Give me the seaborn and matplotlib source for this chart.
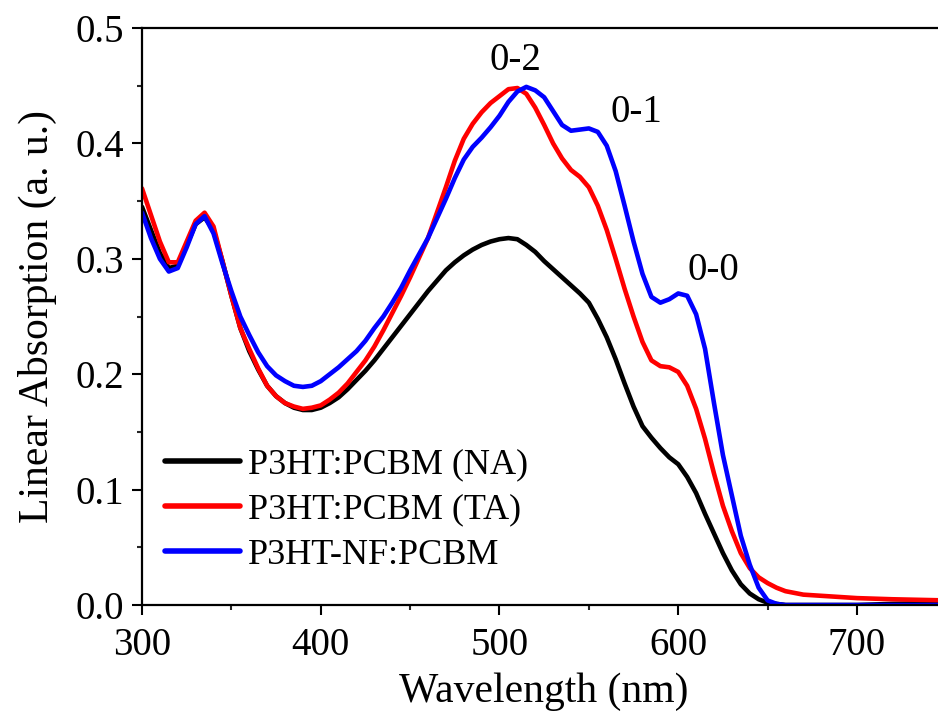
import matplotlib

matplotlib.use("Agg")
import matplotlib.pyplot as plt
import pandas as pd
import seaborn as sns
from matplotlib.ticker import MultipleLocator

# wavelength grid (nm)
wavelength = [
    300, 305, 310, 315, 320, 325, 330, 335, 340, 345, 350, 355, 360, 365, 370,
    375, 380, 385, 390, 395, 400, 405, 410, 415, 420, 425, 430, 435, 440, 445,
    450, 455, 460, 465, 470, 475, 480, 485, 490, 495, 500, 505, 510, 515, 520,
    525, 530, 535, 540, 545, 550, 555, 560, 565, 570, 575, 580, 585, 590, 595,
    600, 605, 610, 615, 620, 625, 630, 635, 640, 645, 650, 655, 660, 670, 680,
    700, 720, 750,
]

na_abs = [
    0.345, 0.325, 0.305, 0.292, 0.294, 0.312, 0.330, 0.336, 0.325, 0.298, 0.268,
    0.240, 0.220, 0.204, 0.190, 0.181, 0.175, 0.171, 0.169, 0.169, 0.171, 0.175,
    0.180, 0.187, 0.195, 0.203, 0.212, 0.222, 0.232, 0.242, 0.252, 0.262, 0.272,
    0.281, 0.290, 0.297, 0.303, 0.308, 0.312, 0.315, 0.317, 0.318, 0.317, 0.312,
    0.306, 0.298, 0.291, 0.284, 0.277, 0.270, 0.262, 0.248, 0.232, 0.213, 0.192,
    0.172, 0.155, 0.145, 0.136, 0.128, 0.122, 0.111, 0.097, 0.079, 0.062, 0.045,
    0.030, 0.018, 0.010, 0.005, 0.002, 0.001, 0.000, 0.000, 0.000, 0.000, 0.001,
    0.002,
]

ta_abs = [
    0.361, 0.338, 0.315, 0.297, 0.297, 0.315, 0.333, 0.340, 0.328, 0.298, 0.268,
    0.240, 0.222, 0.205, 0.190, 0.181, 0.175, 0.172, 0.170, 0.171, 0.173, 0.178,
    0.184, 0.192, 0.202, 0.212, 0.224, 0.238, 0.253, 0.268, 0.284, 0.301, 0.318,
    0.340, 0.362, 0.385, 0.404, 0.417, 0.427, 0.435, 0.441, 0.447, 0.448, 0.443,
    0.431, 0.416, 0.400, 0.387, 0.377, 0.371, 0.362, 0.346, 0.325, 0.300, 0.274,
    0.250, 0.228, 0.212, 0.207, 0.206, 0.202, 0.190, 0.170, 0.144, 0.114, 0.086,
    0.064, 0.045, 0.032, 0.024, 0.019, 0.015, 0.012, 0.009, 0.008, 0.006, 0.005,
    0.004,
]

nf_abs = [
    0.340, 0.318, 0.300, 0.289, 0.292, 0.310, 0.330, 0.337, 0.322, 0.296, 0.272,
    0.250, 0.234, 0.219, 0.207, 0.199, 0.194, 0.190, 0.189, 0.190, 0.194, 0.200,
    0.206, 0.213, 0.220, 0.229, 0.240, 0.250, 0.262, 0.275, 0.290, 0.304, 0.318,
    0.335, 0.352, 0.370, 0.386, 0.397, 0.405, 0.414, 0.424, 0.436, 0.445, 0.449,
    0.446, 0.440, 0.428, 0.416, 0.411, 0.412, 0.413, 0.410, 0.398, 0.376, 0.346,
    0.315, 0.287, 0.267, 0.262, 0.265, 0.270, 0.268, 0.252, 0.222, 0.175, 0.130,
    0.095, 0.060, 0.035, 0.015, 0.004, 0.001, 0.000, 0.000, 0.000, 0.000, 0.000,
    0.000,
]

labels = ["P3HT:PCBM (NA)", "P3HT:PCBM (TA)", "P3HT-NF:PCBM"]
colors = ["black", "#ff0000", "#0000ff"]

peak_labels = ["0-2", "0-1", "0-0"]
peak_x = [494.5, 562.0, 605.0]
peak_y = [0.464, 0.419, 0.282]


def main() -> None:
    df = pd.DataFrame(
        {
            "Wavelength": wavelength * 3,
            "Absorption": na_abs + ta_abs + nf_abs,
            "Sample": [lab for lab in labels for _ in wavelength],
        }
    )

    sns.set_style("ticks")
    plt.rcParams["font.family"] = ["Liberation Serif", "DejaVu Serif"]
    plt.rcParams["text.color"] = "black"
    plt.rcParams["axes.labelcolor"] = "black"

    fig = plt.figure(figsize=(9.38, 7.15), dpi=100)
    ax = fig.add_axes([0.1514, 0.1538, 0.8575, 0.807])

    sns.lineplot(
        data=df,
        x="Wavelength",
        y="Absorption",
        hue="Sample",
        hue_order=labels,
        palette=colors,
        linewidth=3.3,
        ax=ax,
    )
    for line in ax.get_lines():
        line.set_solid_joinstyle("round")

    ax.set_xlim(300, 750)
    ax.set_ylim(0, 0.5)
    ax.xaxis.set_major_locator(MultipleLocator(100))
    ax.xaxis.set_minor_locator(MultipleLocator(50))
    ax.yaxis.set_major_locator(MultipleLocator(0.1))
    ax.yaxis.set_minor_locator(MultipleLocator(0.05))
    ax.yaxis.set_major_formatter(lambda v, _: f"{v:.1f}")
    ax.tick_params(which="major", length=7, width=1.5, labelsize=28,
                   colors="black", pad=6)
    ax.tick_params(axis="x", which="major", pad=9)
    ax.tick_params(which="minor", length=3.5, width=1.5)
    for s in ax.spines.values():
        s.set_linewidth(1.6)
        s.set_color("black")

    ax.set_xlabel("Wavelength (nm)", fontsize=30, labelpad=6)
    ax.set_ylabel("Linear Absorption (a. u.)", fontsize=30, labelpad=13)

    for txt, x, y in zip(peak_labels, peak_x, peak_y):
        ax.text(x, y, txt, fontsize=28, ha="left", va="baseline")

    leg = ax.legend(
        loc="lower left",
        bbox_to_anchor=(0.011, 0.033),
        frameon=False,
        fontsize=26,
        handlelength=2.08,
        handletextpad=0.2,
        labelspacing=0.33,
        borderaxespad=0.0,
    )
    for h in leg.get_lines():
        h.set_linewidth(4)

    fig.savefig("out.png", dpi=100)


if __name__ == "__main__":
    main()
